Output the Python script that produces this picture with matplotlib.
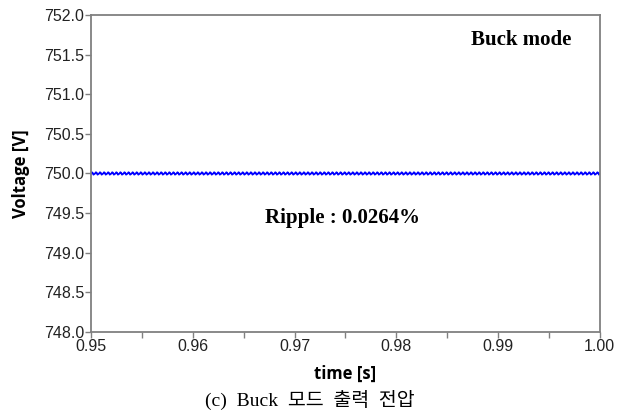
import numpy as np
import matplotlib.pyplot as plt
from matplotlib.ticker import MultipleLocator

# one ripple period (V), repeated over the window
ripple_shape = [750.000, 750.015, 750.008, 749.985, 749.992]
ripple_period = 0.0004
t_start, t_end = 0.95, 1.00
ripple_text = 'Ripple : 0.0264%'
mode_text = 'Buck mode'
caption = '(c)  Buck  모드  출력  전압'

n_cycles = int(round((t_end - t_start) / ripple_period))
v = np.tile(ripple_shape, n_cycles)
t = np.linspace(t_start, t_end, len(v))

fig = plt.figure(figsize=(6.19, 4.17), dpi=100)
ax = fig.add_axes([0.147, 0.204, 0.822, 0.76])
ax.plot(t, v, color='#0000ff', lw=1.3)

ax.set_xlim(t_start, t_end)
ax.set_ylim(748.0, 752.0)
ax.xaxis.set_major_locator(MultipleLocator(0.01))
ax.xaxis.set_minor_locator(MultipleLocator(0.005))
ax.yaxis.set_major_locator(MultipleLocator(0.5))
ax.xaxis.set_major_formatter(plt.FormatStrFormatter('%.2f'))
ax.yaxis.set_major_formatter(plt.FormatStrFormatter('%.1f'))
for s in ax.spines.values():
    s.set_color('#808080')
    s.set_linewidth(1.3)
ax.tick_params(which='both', direction='out', color='#808080', width=1.0,
               labelsize=11.5, labelcolor='#222222', pad=1)
ax.tick_params(which='major', length=4)
ax.tick_params(which='minor', length=4)
for lab in ax.get_xticklabels() + ax.get_yticklabels():
    lab.set_family('Liberation Sans')

ax.set_xlabel('time [s]', fontsize=12, fontweight='bold', family='Open Sans', labelpad=8)
ax.set_ylabel('Voltage [V]', fontsize=12, fontweight='bold', family='Open Sans', labelpad=10)

ax.text(0.845, 0.92, mode_text, transform=ax.transAxes, ha='center', va='center',
        fontsize=15, fontweight='bold', family='Liberation Serif')
ax.text(0.495, 0.36, ripple_text, transform=ax.transAxes, ha='center', va='center',
        fontsize=15, fontweight='bold', family='Liberation Serif')

fig.text(0.5, 0.04, caption, ha='center', va='center', fontsize=14,
         family=['Liberation Serif', 'Noto Sans CJK KR'])

fig.savefig('out.png', dpi=100)
